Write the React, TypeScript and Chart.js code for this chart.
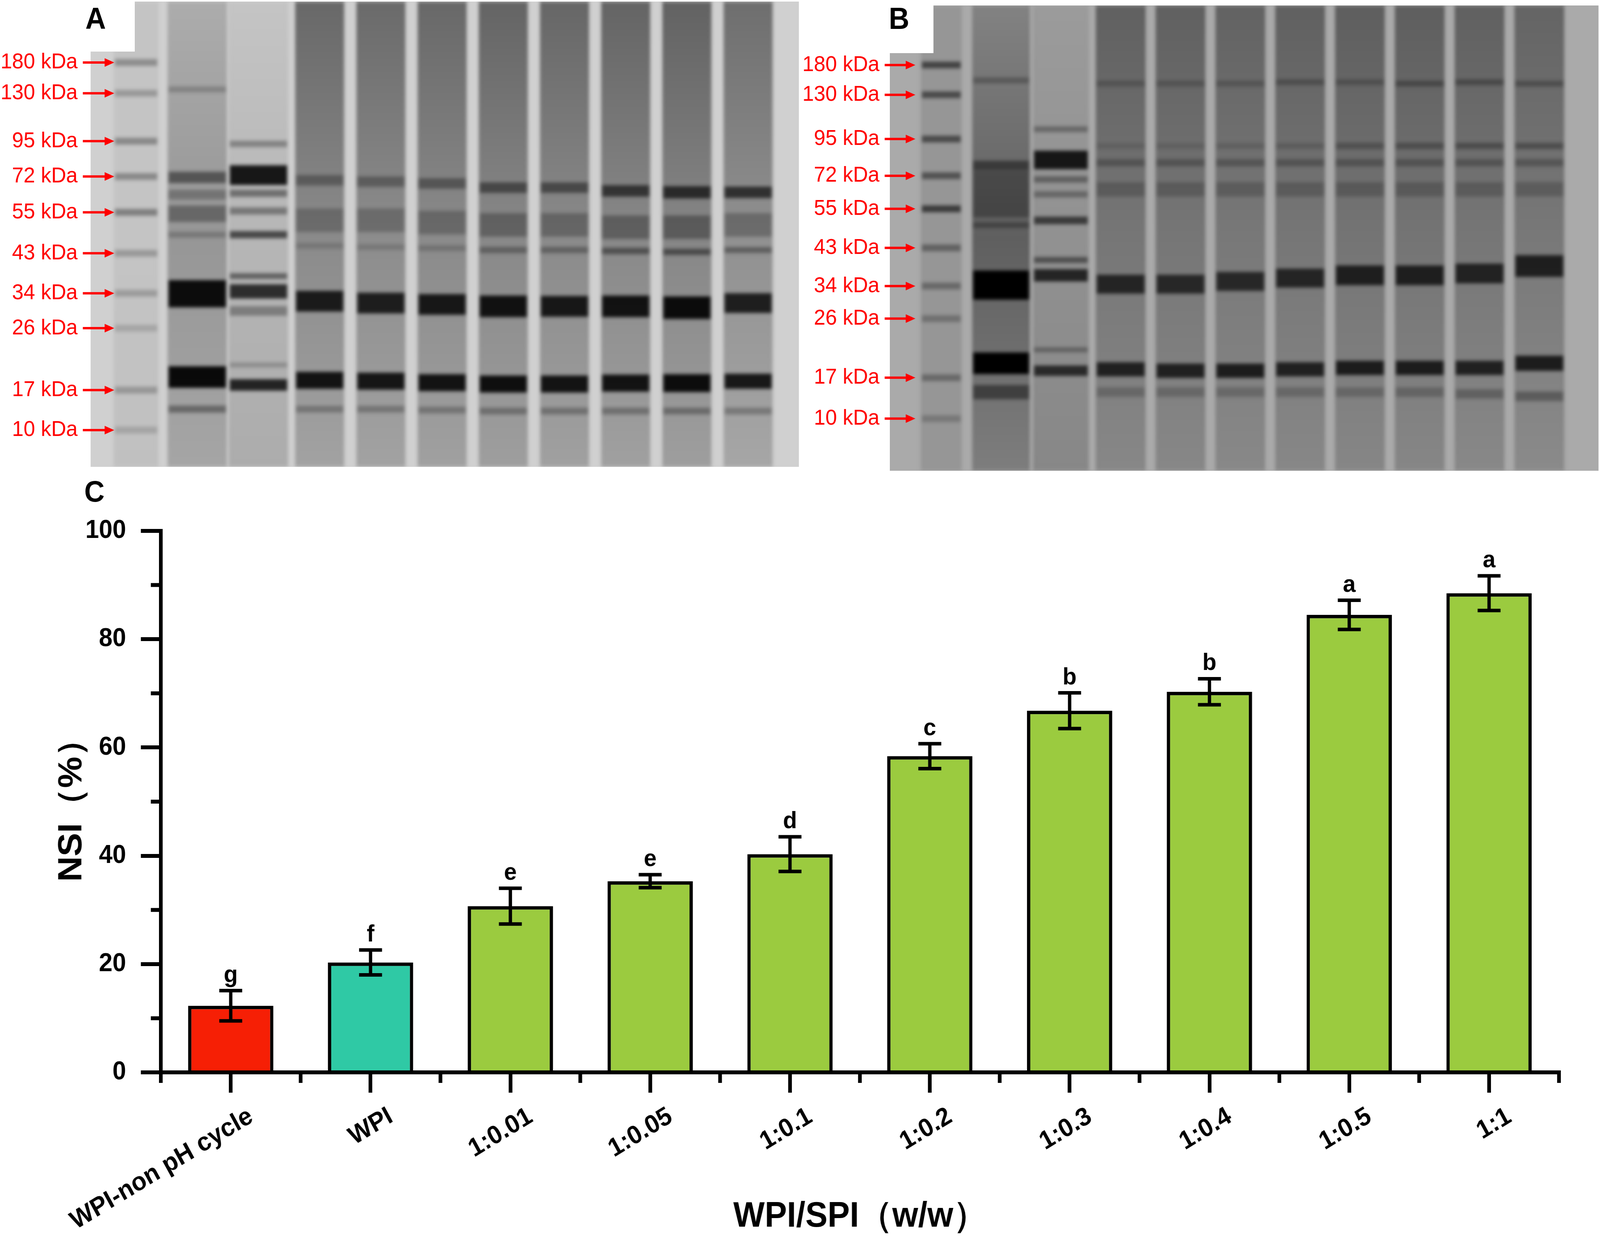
import { useEffect, useRef } from "react";
import { Chart, registerables } from "chart.js";

Chart.register(...registerables);

const FONT = "Arial, 'Liberation Sans', Helvetica, sans-serif";
const PAGE_W = 4328;
const PAGE_H = 3169;

// ---- C: NSI bar chart ----
const groups = ["WPI-non pH cycle", "WPI", "1:0.01", "1:0.05", "1:0.1", "1:0.2", "1:0.3", "1:0.4", "1:0.5", "1:1"];
const nsi = [12.3, 20.3, 30.7, 35.3, 40.3, 58.4, 66.8, 70.3, 84.5, 88.5];
const nsiErr = [2.8, 2.3, 3.3, 1.2, 3.2, 2.3, 3.3, 2.4, 2.7, 3.2];
const letters = ["g", "f", "e", "e", "d", "c", "b", "b", "a", "a"];
const barColors = ["#f61f05", "#2fc9a5", "#9bcb3f", "#9bcb3f", "#9bcb3f", "#9bcb3f", "#9bcb3f", "#9bcb3f", "#9bcb3f", "#9bcb3f"];
const yMinor = [10, 30, 50, 70, 90];

// ---- A / B: SDS-PAGE gels ----
// positions are % of gel height from the top of the gel
const ladderKDa = [180, 130, 95, 72, 55, 43, 34, 26, 17, 10];
const ladderPosA = [13.1, 19.7, 30.0, 37.6, 45.3, 54.1, 62.7, 70.2, 83.5, 92.1];
const ladderPosB = [12.8, 19.2, 28.7, 36.6, 43.7, 52.1, 60.3, 67.3, 80.0, 88.8];
const ladderAlphaA = [0.28, 0.22, 0.3, 0.3, 0.35, 0.22, 0.2, 0.15, 0.22, 0.15];
const ladderAlphaB = [0.55, 0.5, 0.5, 0.45, 0.6, 0.35, 0.3, 0.25, 0.3, 0.2];

// grey level of each lane (marker + 10 samples): top, middle, bottom
const laneShadeA = [[196, 196, 192], [172, 150, 165], [196, 182, 172], [104, 138, 162], [106, 140, 162], [104, 138, 160], [100, 136, 158], [102, 138, 160], [100, 136, 160], [98, 134, 158], [110, 144, 166]];
const laneShadeB = [[150, 150, 150], [130, 95, 125], [155, 145, 135], [96, 118, 135], [96, 118, 135], [98, 120, 136], [96, 118, 135], [94, 116, 134], [94, 116, 134], [96, 118, 136], [100, 120, 138]];
const laneWidthA = [120, 160, 160, 132, 132, 132, 132, 132, 132, 132, 132];
const laneWidthB = [110, 155, 150, 134, 134, 134, 134, 134, 134, 134, 134];

type Band = [number, number, number, number]; // lane, position, thickness, darkness

const gelABands: Band[] = [
  [1, 18.9, 1.2, 0.2], [1, 37.8, 2.4, 0.45], [1, 41.5, 2.0, 0.25], [1, 45.6, 3.5, 0.32], [1, 50.1, 1.2, 0.2],
  [1, 62.8, 5.8, 0.92], [1, 80.7, 4.6, 0.94], [1, 87.6, 1.5, 0.35],
  [2, 30.6, 1.3, 0.3], [2, 37.3, 4.2, 0.88], [2, 41.2, 1.5, 0.4], [2, 45.0, 1.5, 0.35], [2, 50.1, 1.5, 0.6],
  [2, 59.0, 1.2, 0.45], [2, 62.3, 3.0, 0.75], [2, 66.5, 2.0, 0.3], [2, 78.1, 1.0, 0.2], [2, 82.4, 2.4, 0.8],
  [3, 38.4, 2.2, 0.3], [3, 47.0, 5.0, 0.22], [3, 52.5, 1.2, 0.15], [3, 64.4, 4.4, 0.82], [3, 81.4, 3.6, 0.88], [3, 87.6, 1.4, 0.25],
  [4, 38.7, 2.2, 0.3], [4, 47.0, 5.0, 0.22], [4, 52.8, 1.2, 0.15], [4, 64.8, 4.4, 0.8], [4, 81.6, 3.6, 0.86], [4, 87.6, 1.4, 0.25],
  [5, 39.1, 2.2, 0.35], [5, 47.5, 5.0, 0.24], [5, 53.0, 1.2, 0.18], [5, 65.1, 4.4, 0.84], [5, 81.9, 3.6, 0.88], [5, 87.8, 1.4, 0.25],
  [6, 40.0, 2.2, 0.45], [6, 48.0, 5.0, 0.28], [6, 53.4, 1.3, 0.3], [6, 65.5, 4.6, 0.88], [6, 82.2, 3.6, 0.9], [6, 88.0, 1.4, 0.28],
  [7, 40.0, 2.2, 0.45], [7, 48.0, 5.0, 0.26], [7, 53.4, 1.3, 0.3], [7, 65.5, 4.4, 0.84], [7, 82.2, 3.6, 0.88], [7, 88.0, 1.4, 0.28],
  [8, 40.7, 2.4, 0.6], [8, 48.5, 5.0, 0.3], [8, 53.6, 1.3, 0.42], [8, 65.5, 4.6, 0.88], [8, 82.0, 3.6, 0.88], [8, 88.0, 1.4, 0.28],
  [9, 41.0, 2.6, 0.68], [9, 48.5, 5.0, 0.32], [9, 53.8, 1.3, 0.45], [9, 65.8, 4.8, 0.92], [9, 82.0, 3.8, 0.92], [9, 88.0, 1.4, 0.3],
  [10, 41.0, 2.4, 0.65], [10, 48.0, 5.0, 0.25], [10, 53.4, 1.2, 0.35], [10, 64.8, 4.2, 0.8], [10, 81.6, 3.2, 0.85], [10, 88.0, 1.4, 0.25],
];

const gelBBands: Band[] = [
  [1, 16.1, 1.2, 0.25], [1, 34.4, 2.0, 0.45], [1, 40.5, 10.0, 0.3], [1, 47.2, 1.2, 0.3], [1, 60.1, 6.2, 1.0], [1, 76.9, 4.6, 1.0], [1, 83.1, 3.0, 0.45],
  [2, 26.6, 1.2, 0.3], [2, 33.2, 3.9, 0.85], [2, 37.4, 1.3, 0.35], [2, 40.6, 1.3, 0.3], [2, 46.2, 1.6, 0.6], [2, 54.7, 1.2, 0.45], [2, 58.0, 2.6, 0.75], [2, 74.0, 1.0, 0.3], [2, 78.5, 2.2, 0.7],
  [3, 16.8, 1.2, 0.2], [3, 30.2, 1.2, 0.12], [3, 33.8, 1.5, 0.25], [3, 39.5, 3.0, 0.2], [3, 59.9, 4.0, 0.7], [3, 78.2, 3.0, 0.75], [3, 83.1, 2.0, 0.2],
  [4, 16.8, 1.2, 0.2], [4, 30.2, 1.2, 0.12], [4, 33.8, 1.5, 0.25], [4, 39.5, 3.0, 0.2], [4, 59.9, 4.0, 0.68], [4, 78.5, 3.0, 0.75], [4, 83.1, 2.0, 0.2],
  [5, 16.8, 1.2, 0.2], [5, 30.2, 1.2, 0.14], [5, 33.8, 1.5, 0.25], [5, 39.5, 3.0, 0.2], [5, 59.3, 4.0, 0.68], [5, 78.5, 3.0, 0.78], [5, 83.1, 2.0, 0.2],
  [6, 16.5, 1.2, 0.25], [6, 30.2, 1.2, 0.16], [6, 33.8, 1.5, 0.25], [6, 39.5, 3.0, 0.2], [6, 58.6, 4.0, 0.7], [6, 78.2, 3.0, 0.75], [6, 83.1, 2.0, 0.2],
  [7, 16.5, 1.2, 0.22], [7, 30.2, 1.3, 0.25], [7, 33.8, 1.5, 0.25], [7, 39.5, 3.0, 0.2], [7, 58.0, 4.2, 0.75], [7, 77.9, 3.0, 0.78], [7, 83.1, 2.0, 0.2],
  [8, 16.8, 1.2, 0.3], [8, 30.2, 1.3, 0.28], [8, 33.8, 1.5, 0.25], [8, 39.5, 3.0, 0.2], [8, 58.0, 4.2, 0.75], [8, 77.9, 3.0, 0.78], [8, 83.1, 2.0, 0.22],
  [9, 16.5, 1.2, 0.3], [9, 30.2, 1.3, 0.3], [9, 33.8, 1.5, 0.25], [9, 39.5, 3.0, 0.2], [9, 57.6, 4.2, 0.72], [9, 77.9, 3.0, 0.75], [9, 83.5, 2.0, 0.25],
  [10, 16.8, 1.2, 0.28], [10, 30.2, 1.3, 0.3], [10, 33.8, 1.5, 0.25], [10, 39.5, 3.0, 0.2], [10, 56.0, 4.6, 0.75], [10, 76.9, 3.2, 0.78], [10, 84.0, 2.0, 0.3],
];

const grey = (g: number) => `rgb(${g},${g},${g})`;

// gel background, soft band edges, red marker arrows
const gelMarks = {
  id: "gelMarks",
  beforeDatasetsDraw(chart: any, _a: any, opts: any) {
    const { ctx, chartArea: a } = chart;
    ctx.save();
    ctx.fillStyle = opts.bg;
    ctx.fillRect(a.left, a.top, a.width, a.height);
    ctx.beginPath();
    ctx.rect(a.left, a.top, a.width, a.height);
    ctx.clip();
    ctx.filter = "blur(5px)";
  },
  afterDatasetsDraw(chart: any) {
    chart.ctx.restore();
  },
  afterDraw(chart: any, _a: any, opts: any) {
    const { ctx } = chart;
    const ys = chart.scales.y;
    ctx.save();
    ctx.strokeStyle = "#ff0000";
    ctx.fillStyle = "#ff0000";
    ctx.lineWidth = 6;
    ys.ticks.forEach((_t: any, i: number) => {
      const py = ys.getPixelForTick(i);
      const x0 = ys.right - opts.back;
      const x1 = ys.right + opts.fwd;
      ctx.beginPath();
      ctx.moveTo(x0, py);
      ctx.lineTo(x1 - 20, py);
      ctx.stroke();
      ctx.beginPath();
      ctx.moveTo(x1, py);
      ctx.lineTo(x1 - 26, py - 11);
      ctx.lineTo(x1 - 26, py + 11);
      ctx.closePath();
      ctx.fill();
    });
    ctx.restore();
  },
};

function gelConfig(p: {
  ladderPos: number[]; ladderAlpha: number[]; bands: Band[]; shades: number[][]; widths: number[];
  bg: string; xMin: number; xMax: number; labelPad: number; back: number; fwd: number;
  yWidth: number; padding: any; dpr: number;
}): any {
  const datasets: any[] = [];
  p.shades.forEach((shade, lane) => {
    const own = p.bands.filter((b) => b[0] === lane);
    const bandData = lane === 0
      ? p.ladderPos.map((v) => ({ x: 0, y: [v - 0.7, v + 0.7] }))
      : own.map((b) => ({ x: lane, y: [b[1] - b[2] / 2, b[1] + b[2] / 2] }));
    const bandColors = lane === 0
      ? p.ladderAlpha.map((a) => `rgba(0,0,0,${a})`)
      : own.map((b) => `rgba(0,0,0,${b[3]})`);
    datasets.push({
      data: bandData,
      backgroundColor: bandColors,
      barThickness: p.widths[lane] - 6,
      grouped: false,
      borderWidth: 0,
      order: 1,
    });
    datasets.push({
      data: [{ x: lane, y: [0, 100] }],
      backgroundColor: (c: any) => {
        const area = c.chart.chartArea;
        if (!area) return grey(shade[1]);
        const g = c.chart.ctx.createLinearGradient(0, area.top, 0, area.bottom);
        g.addColorStop(0, grey(shade[0]));
        g.addColorStop(0.5, grey(shade[1]));
        g.addColorStop(1, grey(shade[2]));
        return g;
      },
      barThickness: p.widths[lane],
      grouped: false,
      borderWidth: 0,
      order: 5,
    });
  });
  return {
    type: "bar",
    data: { datasets },
    plugins: [gelMarks],
    options: {
      animation: false,
      responsive: false,
      devicePixelRatio: p.dpr,
      layout: { padding: p.padding },
      plugins: {
        legend: { display: false },
        tooltip: { enabled: false },
        gelMarks: { bg: p.bg, back: p.back, fwd: p.fwd },
      },
      scales: {
        x: { type: "linear", min: p.xMin, max: p.xMax, offset: false, display: false },
        y: {
          type: "linear",
          reverse: true,
          min: 0,
          max: 100,
          grid: { display: false, drawTicks: false },
          border: { display: false },
          afterBuildTicks: (s: any) => { s.ticks = p.ladderPos.map((v) => ({ value: v })); },
          afterFit: (s: any) => { s.width = p.yWidth; s.paddingTop = 0; s.paddingBottom = 0; },
          ticks: {
            autoSkip: false,
            color: "#ff0000",
            padding: p.labelPad,
            font: { family: FONT, size: 56 },
            callback: (_v: any, i: number) => `${ladderKDa[i]} kDa`,
          },
        },
      },
    },
  };
}

// error bars, significance letters and minor ticks
const nsiDecor = {
  id: "nsiDecor",
  afterDraw(chart: any) {
    const { ctx, chartArea: a } = chart;
    const x = chart.scales.x;
    const y = chart.scales.y;
    ctx.save();
    ctx.strokeStyle = "#000";
    ctx.lineWidth = 10;
    ctx.beginPath();
    yMinor.forEach((v) => {
      const py = y.getPixelForValue(v);
      ctx.moveTo(a.left - 27, py);
      ctx.lineTo(a.left, py);
    });
    for (let i = 0; i <= groups.length; i++) {
      const px = i === 0 ? a.left : i === groups.length ? a.right
        : (x.getPixelForValue(i - 1) + x.getPixelForValue(i)) / 2;
      ctx.moveTo(px, a.bottom);
      ctx.lineTo(px, a.bottom + 27);
    }
    ctx.stroke();

    const meta = chart.getDatasetMeta(0);
    ctx.lineWidth = 9;
    ctx.fillStyle = "#000";
    ctx.font = `bold 62px ${FONT}`;
    ctx.textAlign = "center";
    ctx.textBaseline = "bottom";
    meta.data.forEach((bar: any, i: number) => {
      const top = y.getPixelForValue(nsi[i] + nsiErr[i]);
      const bot = y.getPixelForValue(nsi[i] - nsiErr[i]);
      ctx.beginPath();
      ctx.moveTo(bar.x, top);
      ctx.lineTo(bar.x, bot);
      ctx.moveTo(bar.x - 31, top);
      ctx.lineTo(bar.x + 31, top);
      ctx.moveTo(bar.x - 31, bot);
      ctx.lineTo(bar.x + 31, bot);
      ctx.stroke();
      ctx.fillText(letters[i], bar.x, top - 8);
    });
    ctx.restore();
  },
};

// fit the 4328x3169 layout to whatever viewport the page gets
function pageScale() {
  const w = document.documentElement.clientWidth || window.innerWidth || PAGE_W;
  const h = document.documentElement.clientHeight || window.innerHeight || PAGE_H;
  return { sx: w / PAGE_W, sy: h / PAGE_H };
}

export default function App() {
  const gelARef = useRef<HTMLCanvasElement | null>(null);
  const gelBRef = useRef<HTMLCanvasElement | null>(null);
  const nsiRef = useRef<HTMLCanvasElement | null>(null);
  const { sx, sy } = pageScale();

  useEffect(() => {
    const charts: Chart[] = [];
    const dpr = (window.devicePixelRatio || 1) * Math.max(sx, sy);

    charts.push(new Chart(gelARef.current!, gelConfig({
      ladderPos: ladderPosA, ladderAlpha: ladderAlphaA, bands: gelABands, shades: laneShadeA, widths: laneWidthA,
      bg: grey(208), xMin: -0.743, xMax: 10.83, labelPad: 35, back: 21, fwd: 64,
      yWidth: 245, padding: { top: 4, right: 4, bottom: 15, left: 0 }, dpr,
    })));

    charts.push(new Chart(gelBRef.current!, gelConfig({
      ladderPos: ladderPosB, ladderAlpha: ladderAlphaB, bands: gelBBands, shades: laneShadeB, widths: laneWidthB,
      bg: grey(170), xMin: -0.86, xMax: 10.99, labelPad: 28, back: 14, fwd: 69,
      yWidth: 242, padding: { top: 14, right: 4, bottom: 5, left: 0 }, dpr,
    })));

    const tickFont = { family: FONT, size: 66, weight: "bold" as const };
    const titleFont = { family: FONT, size: 90, weight: "bold" as const };

    charts.push(new Chart(nsiRef.current!, {
      type: "bar",
      data: {
        labels: groups,
        datasets: [{
          data: nsi,
          backgroundColor: barColors,
          borderColor: "#000",
          borderWidth: 9,
          borderSkipped: "start",
          barPercentage: 0.61,
          categoryPercentage: 1,
        }],
      },
      plugins: [nsiDecor],
      options: {
        animation: false,
        responsive: false,
        devicePixelRatio: dpr,
        layout: { padding: { top: 139, right: 111, left: 0, bottom: 0 } },
        plugins: { legend: { display: false }, tooltip: { enabled: false } },
        scales: {
          x: {
            offset: true,
            grid: { offset: false, drawOnChartArea: false, tickLength: 52, lineWidth: 10, color: "#000" },
            border: { display: true, width: 10, color: "#000" },
            ticks: {
              color: "#000", font: tickFont, autoSkip: false,
              minRotation: 30, maxRotation: 30, labelOffset: 55, padding: 22,
            },
            title: { display: true, text: "WPI/SPI（w/w）", color: "#000", font: titleFont, padding: 0 },
            afterFit: (s: any) => { s.height = 424; s.paddingLeft = 0; s.paddingRight = 0; },
          },
          y: {
            min: 0,
            max: 100,
            grid: { drawOnChartArea: false, tickLength: 54, lineWidth: 10, color: "#000" },
            border: { display: true, width: 10, color: "#000" },
            ticks: { stepSize: 20, color: "#000", font: tickFont, padding: 40 },
            title: { display: true, text: "NSI（%）", color: "#000", font: titleFont, padding: { top: 141, bottom: 0 } },
            afterFit: (s: any) => { s.width = 435; s.paddingTop = 0; s.paddingBottom = 0; },
          },
        },
      } as any,
    }));

    return () => charts.forEach((c) => c.destroy());
  }, [sx, sy]);

  const letter = { position: "absolute" as const, fontFamily: FONT, fontWeight: 700, lineHeight: 1, color: "#000" };

  return (
    <div style={{ position: "fixed", left: 0, top: 0, right: 0, bottom: 0, overflow: "hidden", background: "#fff" }}>
      <div style={{
        position: "absolute", left: 0, top: 0, width: PAGE_W, height: PAGE_H, background: "#fff",
        transform: `scale(${sx}, ${sy})`, transformOrigin: "0 0",
      }}>
        <canvas ref={gelARef} width={2165} height={1210} style={{ position: "absolute", left: 0, top: 0 }} />
        <canvas ref={gelBRef} width={2163} height={1210} style={{ position: "absolute", left: 2165, top: 0 }} />
        <canvas ref={nsiRef} width={4328} height={1949} style={{ position: "absolute", left: 0, top: 1220 }} />
        <div style={{ position: "absolute", left: 0, top: 0, width: 365, height: 132, background: "#fff" }} />
        <div style={{ position: "absolute", left: 2380, top: 0, width: 145, height: 136, background: "#fff" }} />
        <div style={{ ...letter, left: 231, top: 9, fontSize: 77 }}>A</div>
        <div style={{ ...letter, left: 2404, top: 9, fontSize: 77 }}>B</div>
        <div style={{ ...letter, left: 228, top: 1220, fontSize: 76 }}>C</div>
      </div>
    </div>
  );
}
